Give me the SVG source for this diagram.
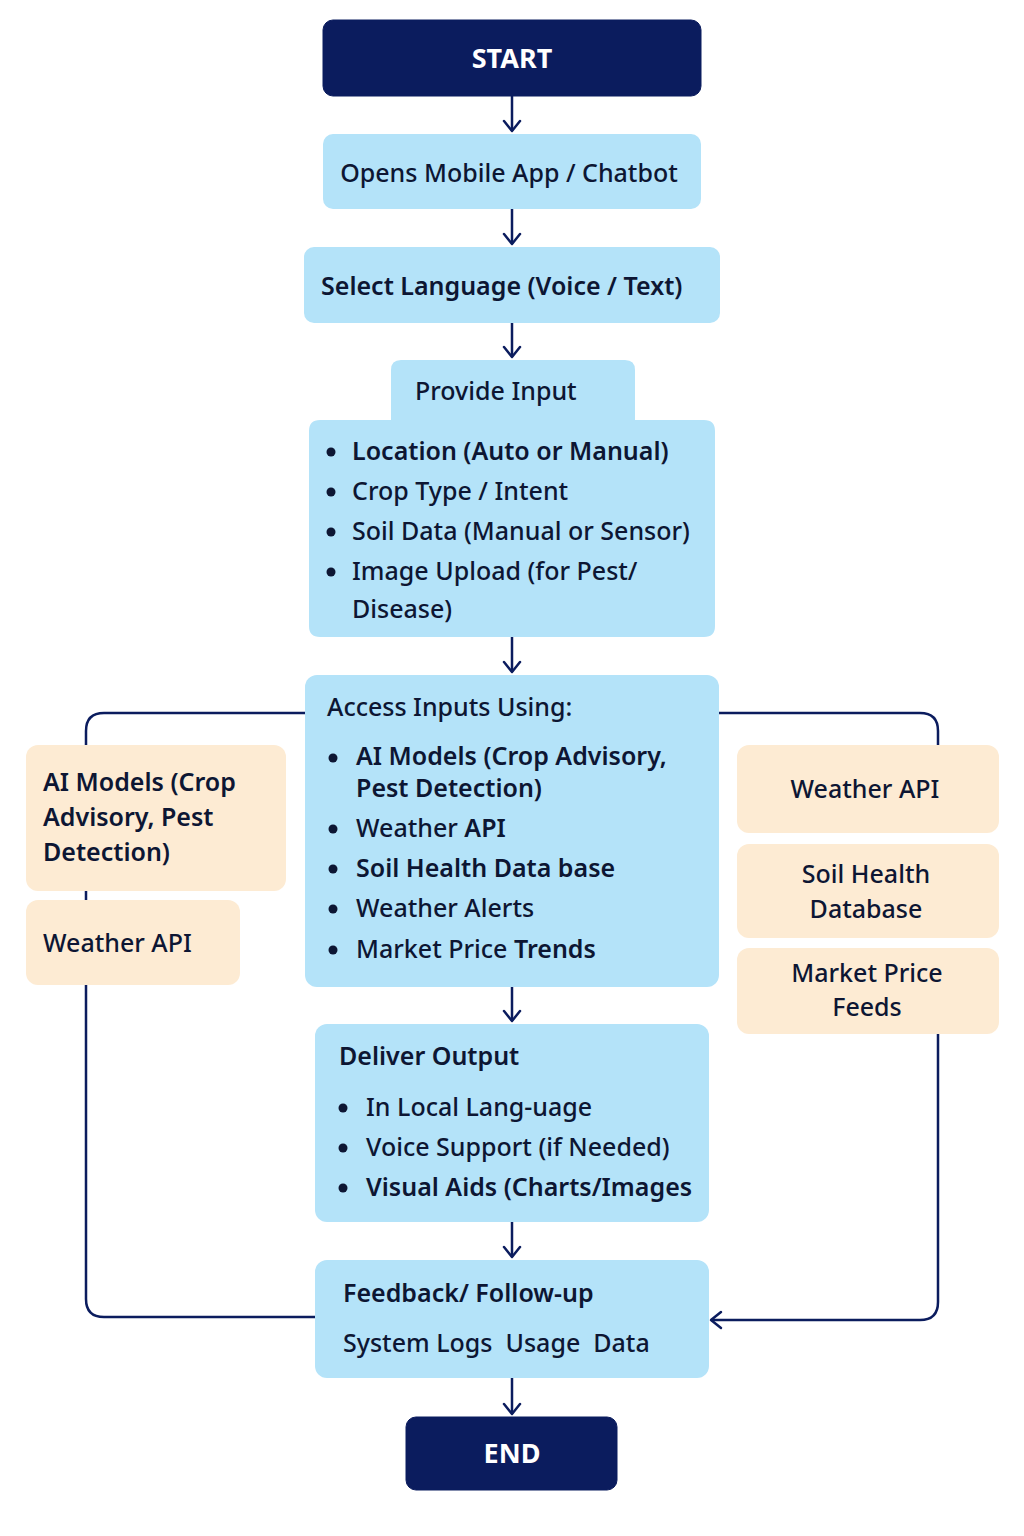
<svg xmlns="http://www.w3.org/2000/svg" width="1024" height="1536" viewBox="0 0 1024 1536">
<style>
.term{fill:#0b1c5e;stroke:#0b1c5e}
.blue{fill:#b4e3f9}
.orange{fill:#fdebd3}
.dot{fill:#0d1633}
text{font-family:"Noto Sans","Open Sans","Liberation Sans",sans-serif;font-size:25px;fill:#0d1633;font-weight:500}
.tw{fill:#ffffff;font-weight:700;font-size:27px}
.b{font-weight:600}
.c{text-anchor:middle}
.conn{fill:none;stroke:#0b1c5e;stroke-width:2.5;stroke-linejoin:round}
</style>
<defs>
<marker id="ah" viewBox="0 0 20 20" refX="18" refY="10" markerWidth="20" markerHeight="20" markerUnits="userSpaceOnUse" orient="auto">
<path d="M8,2 L18,10 L8,18" fill="none" stroke="#0b1c5e" stroke-width="2.5" stroke-linecap="round" stroke-linejoin="round"/>
</marker>
</defs>
<rect width="1024" height="1536" fill="#ffffff"/>
<g id="connectors">
<path class="conn" d="M305,713 H104 Q86,713 86,731 V1299 Q86,1317 104,1317 H315"/>
<path class="conn" d="M719,713 H920 Q938,713 938,731 V745"/>
<path class="conn" d="M938,1034 V1302 Q938,1320 920,1320 H711" marker-end="url(#ah)"/>
<path class="conn" d="M512,96 V131" marker-end="url(#ah)"/>
<path class="conn" d="M512,209 V244" marker-end="url(#ah)"/>
<path class="conn" d="M512,323 V357" marker-end="url(#ah)"/>
<path class="conn" d="M512,637 V672" marker-end="url(#ah)"/>
<path class="conn" d="M512,987 V1021" marker-end="url(#ah)"/>
<path class="conn" d="M512,1222 V1257" marker-end="url(#ah)"/>
<path class="conn" d="M512,1378 V1414" marker-end="url(#ah)"/>
</g>
<g id="start">
<rect class="term" x="323" y="20" width="378" height="76" rx="10"/>
<text class="tw c" x="512" y="68">START</text>
</g>
<g id="open-app">
<rect class="blue" x="323" y="134" width="378" height="75" rx="10"/>
<text class="c" x="509" y="182">Opens Mobile App / Chatbot</text>
</g>
<g id="select-language">
<rect class="blue" x="304" y="247" width="416" height="76" rx="10"/>
<text class="b" x="321" y="295">Select Language (Voice / Text)</text>
</g>
<g id="provide-input">
<path class="blue" d="M401,360 H625 Q635,360 635,370 V420 H704 Q715,420 715,431 V626 Q715,637 704,637 H320 Q309,637 309,626 V431 Q309,420 320,420 H391 V370 Q391,360 401,360 Z"/>
<text x="415" y="400">Provide Input</text>
<circle class="dot" cx="331" cy="452" r="4.5"/><text class="b" x="352" y="460">Location (Auto or Manual)</text>
<circle class="dot" cx="331" cy="492" r="4.5"/><text x="352" y="500">Crop Type / Intent</text>
<circle class="dot" cx="331" cy="532" r="4.5"/><text x="352" y="540">Soil Data (Manual or Sensor)</text>
<circle class="dot" cx="331" cy="572" r="4.5"/><text x="352" y="580">Image Upload (for Pest/</text>
<text x="352" y="618">Disease)</text>
</g>
<g id="access-inputs">
<rect class="blue" x="305" y="675" width="414" height="312" rx="12"/>
<text x="327" y="716">Access Inputs Using:</text>
<circle class="dot" cx="333" cy="758" r="4.5"/><text class="b" x="356" y="765">AI Models (Crop Advisory,</text>
<text class="b" x="356" y="797">Pest Detection)</text>
<circle class="dot" cx="333" cy="829" r="4.5"/><text x="356" y="837">Weather <tspan class="b">API</tspan></text>
<circle class="dot" cx="333" cy="869" r="4.5"/><text class="b" x="356" y="877">Soil Health Data base</text>
<circle class="dot" cx="333" cy="909" r="4.5"/><text x="356" y="917">Weather Alerts</text>
<circle class="dot" cx="333" cy="950" r="4.5"/><text x="356" y="958">Market Price <tspan class="b">Trends</tspan></text>
</g>
<g id="ai-models">
<rect class="orange" x="26" y="745" width="260" height="146" rx="12"/>
<text class="b" x="43" y="791">AI Models (Crop</text>
<text class="b" x="43" y="826">Advisory, Pest</text>
<text class="b" x="43" y="861">Detection)</text>
</g>
<g id="weather-api-left">
<rect class="orange" x="26" y="900" width="214" height="85" rx="12"/>
<text x="43" y="952">Weather API</text>
</g>
<g id="weather-api-right">
<rect class="orange" x="737" y="745" width="262" height="88" rx="12"/>
<text class="c" x="865" y="798">Weather API</text>
</g>
<g id="soil-health-db">
<rect class="orange" x="737" y="844" width="262" height="94" rx="12"/>
<text class="c" x="866" y="883">Soil Health</text>
<text class="c" x="866" y="918">Database</text>
</g>
<g id="market-price-feeds">
<rect class="orange" x="737" y="948" width="262" height="86" rx="12"/>
<text class="c" x="867" y="982">Market Price</text>
<text class="c" x="867" y="1016">Feeds</text>
</g>
<g id="deliver-output">
<rect class="blue" x="315" y="1024" width="394" height="198" rx="12"/>
<text class="b" x="339" y="1065">Deliver Output</text>
<circle class="dot" cx="343" cy="1108" r="4.5"/><text x="366" y="1116">In Local Lang-uage</text>
<circle class="dot" cx="343" cy="1148" r="4.5"/><text x="366" y="1156">Voice Support (if Needed)</text>
<circle class="dot" cx="343" cy="1188" r="4.5"/><text class="b" x="366" y="1196">Visual Aids (Charts/Images</text>
</g>
<g id="feedback">
<rect class="blue" x="315" y="1260" width="394" height="118" rx="12"/>
<text class="b" x="343" y="1302">Feedback/ Follow-up</text>
<text x="343" y="1352" xml:space="preserve">System Logs  Usage  Data</text>
</g>
<g id="end">
<rect class="term" x="406" y="1417" width="211" height="73" rx="10"/>
<text class="tw c" x="512" y="1463">END</text>
</g>
</svg>
